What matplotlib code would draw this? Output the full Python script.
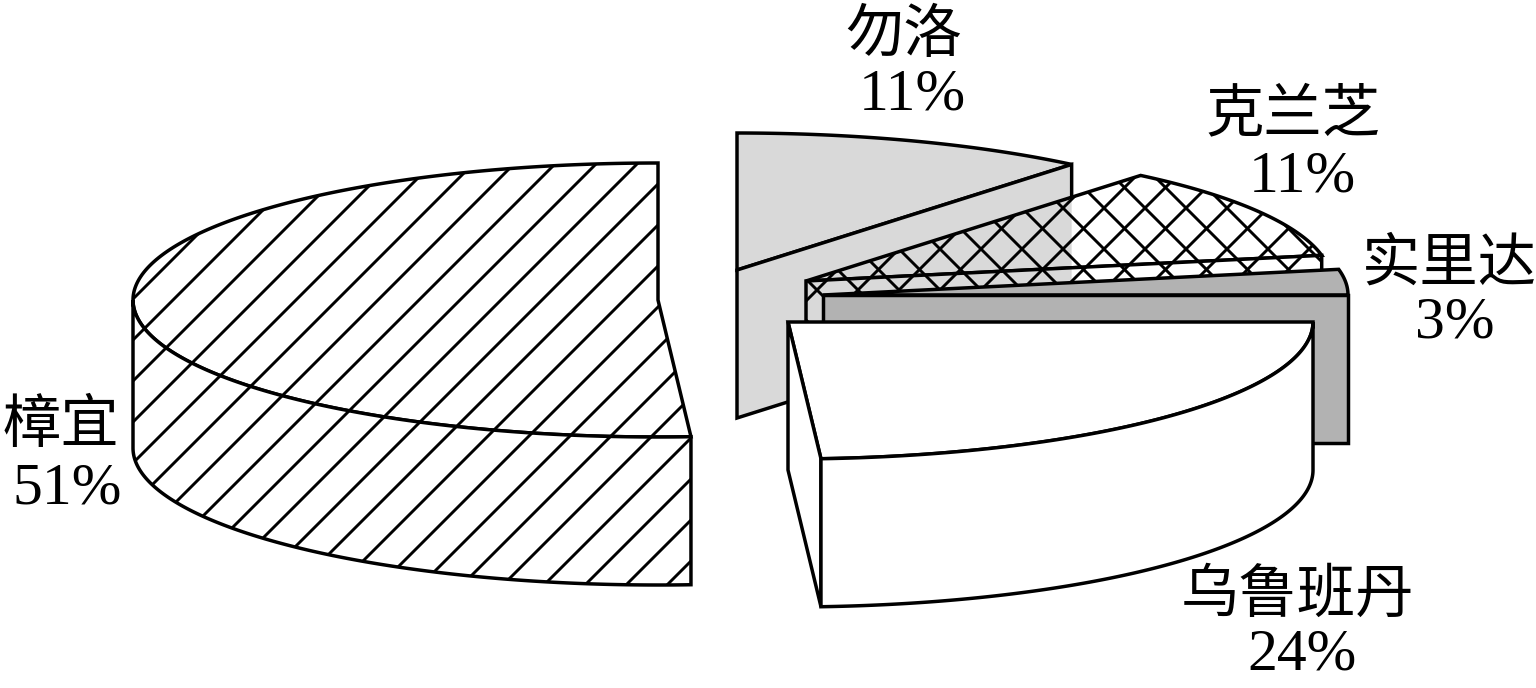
import matplotlib
matplotlib.use("Agg")
import matplotlib.pyplot as plt
from matplotlib.patches import Polygon
import numpy as np

plt.rcParams['font.family'] = ['Liberation Serif', 'Noto Sans CJK SC']

# counter-clockwise from the top of the pie
names = ['樟宜', '乌鲁班丹', '实里达', '克兰芝', '勿洛']
shares = [51, 24, 3, 11, 11]

# exploded position of each slice, in pixels
centers = [(658, 300), (788, 322), (823, 295), (806, 281), (737, 270)]
colors = ['white', 'white', '#b2b2b2', 'white', '#d9d9d9']
hatches = ['/', None, None, 'x', None]
name_pos = [(61, 427), (1297, 597), (1449, 266), (1293, 116), (904, 37)]
pct_pos = [(67, 490), (1302, 655), (1455, 323), (1302, 178), (912, 95)]

RX = 525
RY = 137
DEPTH = 148
LW = 2.5
HATCH_LW = 2.1
HATCH_STEP = 41


def arc(center, a1, a2, dy=0):
    t = np.radians(np.linspace(a1, a2, 200))
    x = center[0] + RX * np.cos(t)
    y = center[1] - RY * np.sin(t) + dy
    return np.column_stack([x, y])


def slice_polys(center, a1, a2):
    # top surface first, then whichever sides face the viewer
    apex = np.array(center, dtype=float)
    polys = [np.vstack([apex, arc(center, a1, a2)])]
    if np.cos(np.radians(a1)) > 1e-6:
        edge = arc(center, a1, a1)[0]
        polys.append(np.array([apex, edge, edge + [0, DEPTH], apex + [0, DEPTH]]))
    lo = max(a1, 180)
    hi = min(a2, 360)
    if lo < hi:
        top = arc(center, lo, hi)
        bottom = arc(center, hi, lo, DEPTH)
        polys.append(np.vstack([top, bottom]))
    return polys


def add_hatch(ax, patch, kind, z):
    # the built-in hatch is too dense at this size, so rule the lines by hand
    rules = []
    if kind == '/':
        for c in np.arange(22, 2400, HATCH_STEP):
            rules.append(([0, 1536], [c, c - 1536]))
    if kind == 'x':
        for c in np.arange(0, 2400, HATCH_STEP):
            rules.append(([0, 1536], [c + 1353 % HATCH_STEP, c + 1353 % HATCH_STEP - 1536]))
        for c in np.arange(-1600, 1600, HATCH_STEP):
            rules.append(([0, 1536], [c - 977 % HATCH_STEP, c - 977 % HATCH_STEP + 1536]))
    for xs, ys in rules:
        line, = ax.plot(xs, ys, color='black', lw=HATCH_LW, zorder=z)
        line.set_clip_path(patch)


fig = plt.figure(figsize=(15.36, 6.88), dpi=100)
ax = fig.add_axes([0, 0, 1, 1])
ax.set_xlim(0, 1536)
ax.set_ylim(688, 0)
ax.axis('off')

starts = 90 + 3.6 * np.concatenate([[0], np.cumsum(shares)[:-1]])
ends = 90 + 3.6 * np.cumsum(shares)
# angles of the right hand slices are wrapped so they run from 0 upwards
starts = np.where(starts >= 360, starts - 360, starts)
ends = np.where(ends > 360, ends - 360, ends)

back_slice = slice_polys(centers[4], starts[4], ends[4])

z = 1
for i in [4, 3, 2, 1, 0]:
    polys = slice_polys(centers[i], starts[i], ends[i])
    for pts in polys:
        z += 1
        patch = Polygon(pts, closed=True, facecolor=colors[i], edgecolor='none', zorder=z)
        ax.add_patch(patch)
        # the grey of 勿洛 shows through the cross hatched slice, its outline doesn't
        if names[i] == '克兰芝':
            for back in back_slice:
                under = Polygon(back, closed=True, facecolor=colors[4], edgecolor='none', zorder=z)
                ax.add_patch(under)
                under.set_clip_path(patch)
        add_hatch(ax, patch, hatches[i], z)
        ax.add_patch(Polygon(pts, closed=True, fill=False, edgecolor='black',
                             lw=LW, joinstyle='miter', zorder=z))

for i in range(len(names)):
    ax.text(name_pos[i][0], name_pos[i][1], names[i], fontsize=42, ha='center', va='center', zorder=z + 1)
    ax.text(pct_pos[i][0], pct_pos[i][1], '%d%%' % shares[i], fontsize=43, ha='center', va='center', zorder=z + 1)

fig.savefig('out.png', dpi=100)
